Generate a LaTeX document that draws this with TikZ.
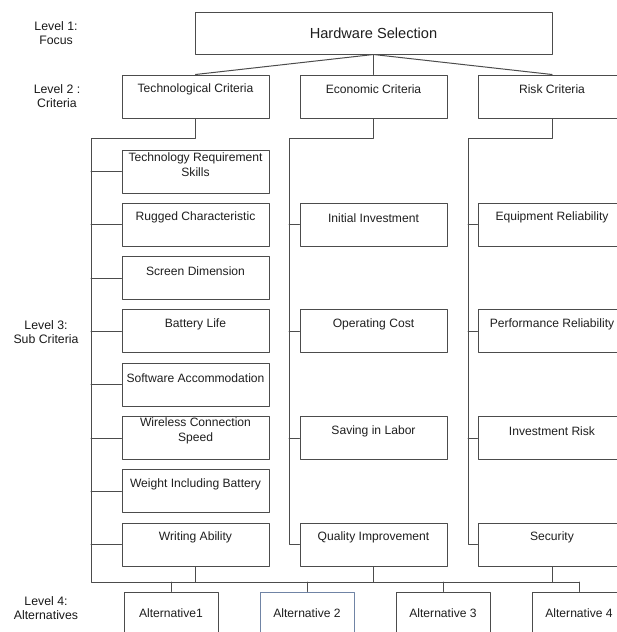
\documentclass[tikz,border=0pt]{standalone}
\usepackage{fontspec}
\setmainfont{Liberation Sans}
\definecolor{altblue}{RGB}{112,132,165}
% text sits in the upper part of each box
\newcommand{\cell}[1]{\parbox[t][43pt][t]{146pt}{\centering\parbox[c][29pt][c]{146pt}{\centering #1}}}

\begin{document}
\begin{tikzpicture}[x=1pt,y=-1pt,line cap=round,line join=round]
  \tikzset{
    link/.style={draw=black!70,line width=1pt},
    box/.style={link,fill=white,inner sep=0pt,text=black!88,font=\fontsize{12.1}{14.5}\selectfont},
    critbox/.style={box,minimum width=147pt,minimum height=43pt},
    altbox/.style={box,minimum width=94pt,minimum height=43pt},
    level/.style={align=center,text=black!90,font=\fontsize{12.3}{14}\selectfont}
  }
  \useasboundingbox (0,0) rectangle (617,632);

  % level captions
  \node[level] (lv1) at (56,33) {Level 1:\\Focus};
  \node[level] (lv2) at (57,96) {Level 2 :\\Criteria};
  \node[level] (lv3) at (46,332) {Level 3:\\Sub Criteria};
  \node[level] (lv4) at (46,608) {Level 4:\\Alternatives};

  % focus and criteria
  \node[box,minimum width=357pt,minimum height=42pt,font=\fontsize{14.6}{17}\selectfont] (focus) at (373.5,33) {Hardware Selection};
  \node[critbox] (tech) at (195.5,96.5) {\cell{Technological Criteria}};
  \node[critbox] (econ) at (373.5,96.5) {\cell{Economic Criteria}};
  \node[critbox,minimum width=148pt] (risk) at (552,96.5) {\cell{Risk Criteria}};
  \foreach \c in {tech,econ,risk}
    \draw[link] (focus.south) -- (\c.north);

  % sub criteria
  \foreach \txt [count=\i] in {{Technology Requirement\\Skills},Rugged Characteristic,
      Screen Dimension,Battery Life,Software Accommodation,{Wireless Connection\\Speed},
      Weight Including Battery,Writing Ability}
    \node[critbox] (tech\i) at (195.5,118.2+53.3*\i) {\cell{\txt}};
  \foreach \txt [count=\i] in {Initial Investment,Operating Cost,Saving in Labor,Quality Improvement}
    \node[critbox] (econ\i) at (373.5,118.2+106.6*\i) {\cell{\txt}};
  \foreach \txt [count=\i] in {Equipment Reliability,Performance Reliability,Investment Risk,Security}
    \node[critbox,minimum width=148pt] (risk\i) at (552,118.2+106.6*\i) {\cell{\txt}};

  % alternatives
  \node[altbox] (alt1) at (171,613.5) {Alternative1};
  \node[altbox,draw=altblue] (alt2) at (307,613.5) {Alternative 2};
  \node[altbox] (alt3) at (443,613.5) {Alternative 3};
  \node[altbox] (alt4) at (579,613.5) {Alternative 4};

  % trunk lines
  \coordinate (tl) at (91,138);
  \coordinate (el) at (289,138);
  \coordinate (rl) at (468,138);
  \coordinate (bl) at (91,582);
  \draw[link] (tech.south) |- (tl) -- (bl) -- (bl -| alt4.north);
  \draw[link] (econ.south) |- (el) |- (econ4.west);
  \draw[link] (risk.south) |- (rl) |- (risk4.west);
  \foreach \i in {1,...,8}
    \draw[link] (tech\i.west) -- (tech\i.west -| tl);
  \foreach \i in {1,2,3} {
    \draw[link] (econ\i.west) -- (econ\i.west -| el);
    \draw[link] (risk\i.west) -- (risk\i.west -| rl);
  }
  \foreach \c in {tech8,econ4,risk4}
    \draw[link] (\c.south) -- (\c.south |- bl);
  \foreach \i in {1,...,4}
    \draw[link] (alt\i.north) -- (alt\i.north |- bl);
\end{tikzpicture}
\end{document}
